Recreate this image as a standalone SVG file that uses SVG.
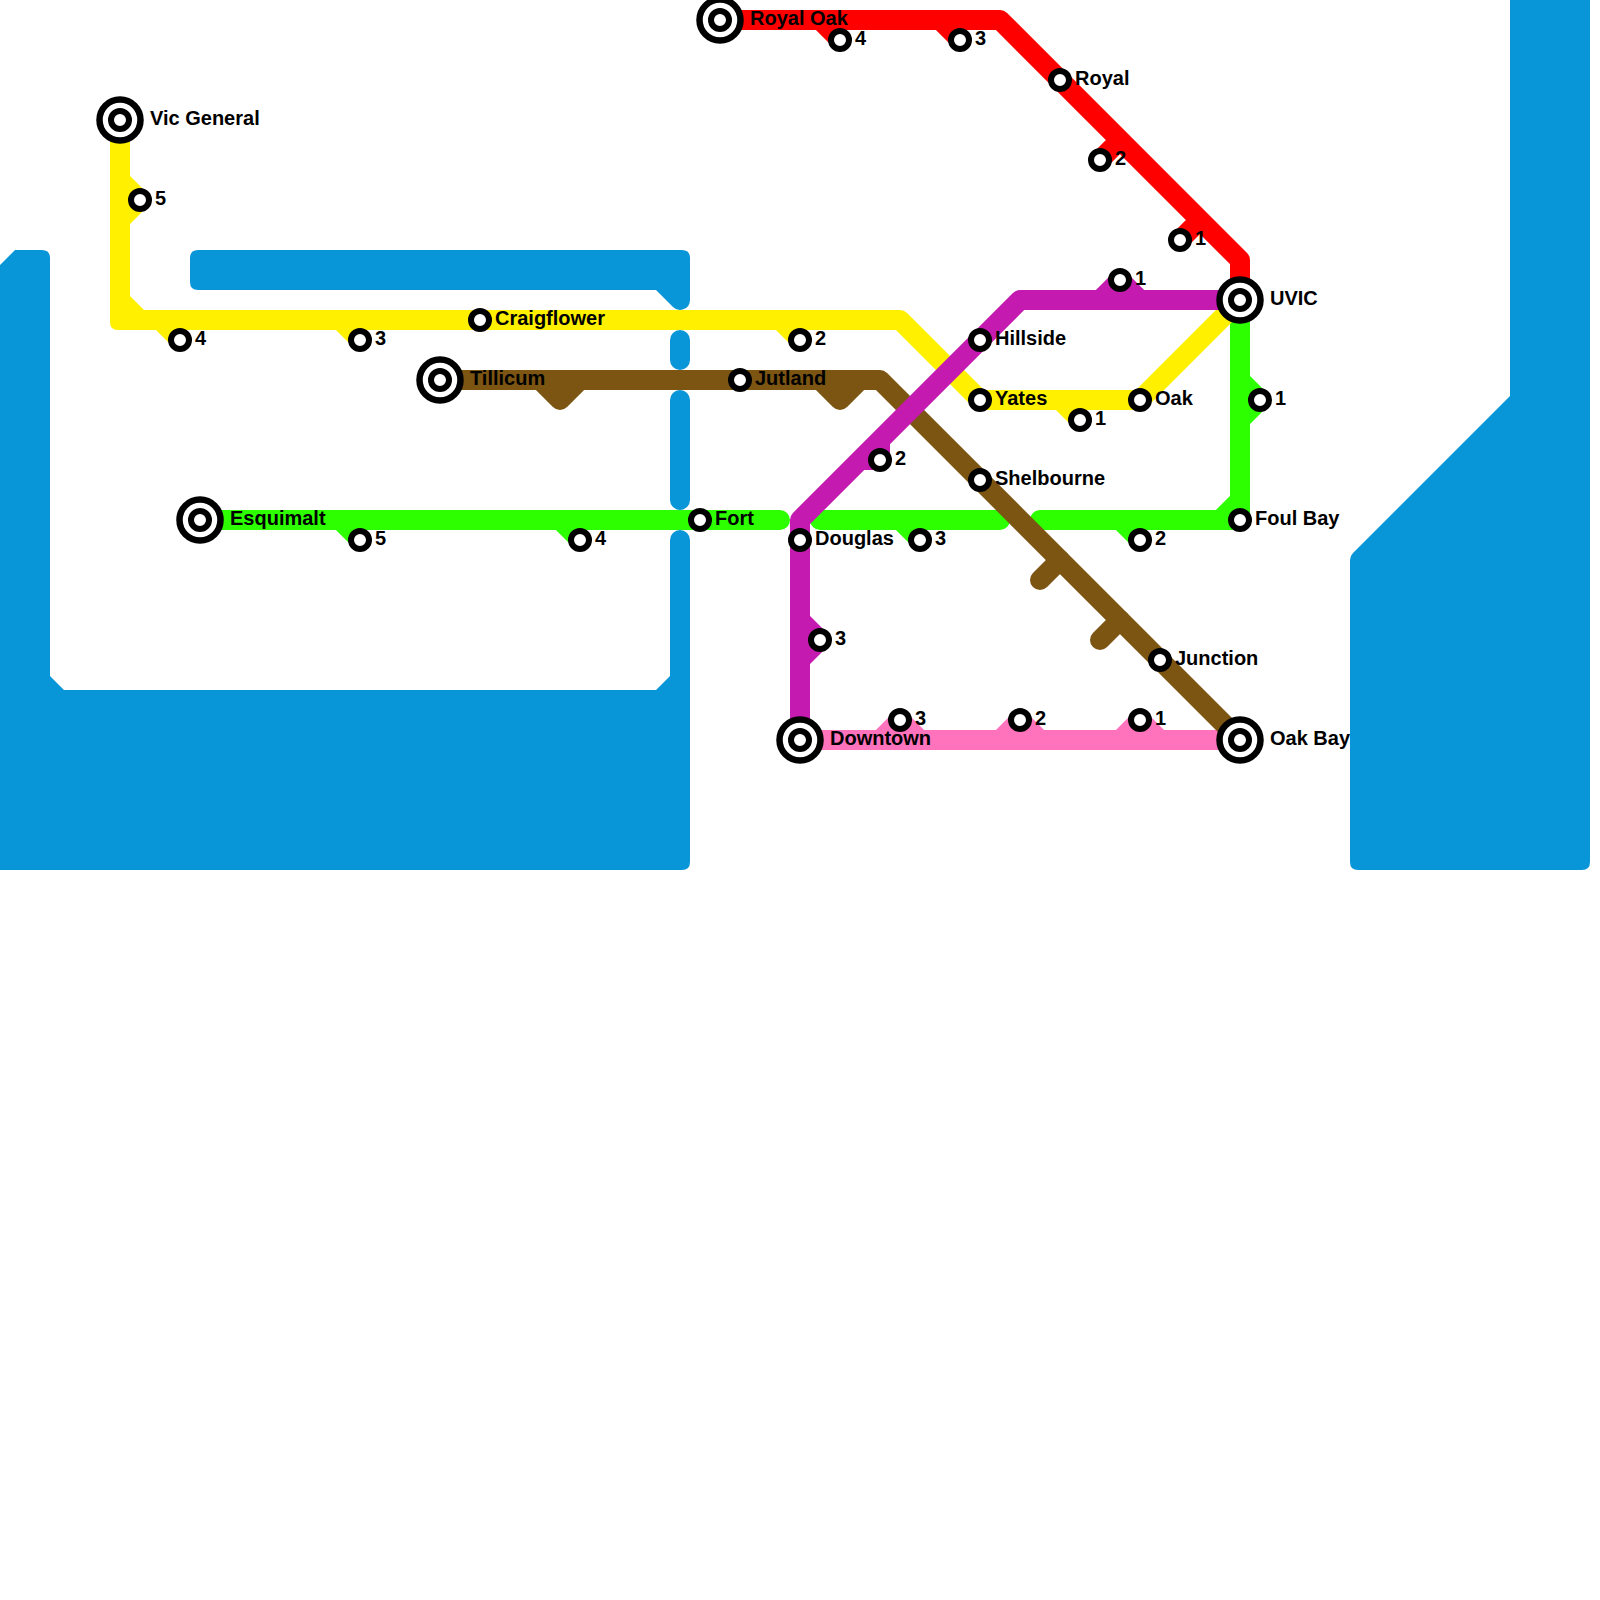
<svg xmlns="http://www.w3.org/2000/svg" width="1600" height="1600" viewBox="0 0 1600 1600">
<style>
.w{fill:#0996d8;stroke:none}
.ws{fill:none;stroke:#0996d8;stroke-width:20;stroke-linecap:round}
.l{fill:none;stroke-width:20;stroke-linejoin:round;stroke-linecap:butt}
.y{stroke:#fff000}.g{stroke:#2dff00}.r{stroke:#ff0000}.p{stroke:#c41ab0}.b{stroke:#7c5512}.k{stroke:#ff73bd}
.cap{stroke-linecap:round}
.s{fill:#fff;stroke:#000;stroke-width:6}
.t{fill:#fff;stroke:#000;stroke-width:6.5}
text{font-family:"Liberation Sans",Arial,sans-serif;font-weight:700;font-size:20px;fill:#000}
</style>
<rect width="1600" height="1600" fill="#fff"/>
<g id="water">
<path class="w" d="M0 265L15 250H42Q50 250 50 258V676L64 690H656L670 676V540A10 10 0 0 1 690 540V862Q690 870 682 870H0Z"/>
<path class="w" d="M198 250H682Q690 250 690 258V300A10 10 0 0 1 673 307L656 290H198Q190 290 190 282V258Q190 250 198 250Z"/>
<path class="ws" d="M680 340V360M680 400V500"/>
<path class="w" d="M1510 0H1590V862Q1590 870 1582 870H1358Q1350 870 1350 862V560Q1350 556 1353 553L1510 396Z"/>
</g>
<g id="connectors">
<g id="line-pink"><path class="l k" d="M800 740H1240M880 740L900 720L920 740M1000 740L1020 720L1040 740M1120 740L1140 720L1160 740"/></g>
<g id="line-green"><path class="l g" d="M1040 520H1240V300M1240 380L1260 400L1240 420M1220 520L1240 500M1120 520L1140 540"/>
<path class="l g cap" d="M200 520H780M820 520H1000M1040 520H1100"/>
<path class="l g" d="M340 520L360 540M560 520L580 540M900 520L920 540"/></g>
<g id="line-yellow"><path class="l y" d="M120 120V320H900L980 400H1140L1240 300M120 180L140 200L120 220M160 320L180 340M340 320L360 340M780 320L800 340M1060 400L1080 420"/>
<path d="M110 296V322Q110 330 118 330H144V310L130 296Z" fill="#fff000"/></g>
<g id="line-red"><path class="l r" d="M720 20H1000L1240 260V300M820 20L840 40M940 20L960 40M1120 140L1100 160M1200 220L1180 240"/></g>
<g id="line-brown"><path class="l b" d="M440 380H880L1240 740M540 380L560 400L580 380M820 380L840 400L860 380"/>
<path class="l b cap" d="M1060 560L1040 580M1120 620L1100 640"/></g>
<g id="line-purple"><path class="l p" d="M800 740V520L1020 300H1240M800 620L820 640L800 660M880 440V460H860M1100 300L1120 280L1140 300"/></g>
</g>
<g id="vic-general"><circle class="t" cx="120" cy="120" r="20.5"/><circle class="s" cx="120" cy="120" r="9"/><text x="150" y="125">Vic General</text></g>
<g id="yellow-5"><circle class="s" cx="140" cy="200" r="9"/><text x="155" y="205">5</text></g>
<g id="yellow-4"><circle class="s" cx="180" cy="340" r="9"/><text x="195" y="345">4</text></g>
<g id="yellow-3"><circle class="s" cx="360" cy="340" r="9"/><text x="375" y="345">3</text></g>
<g id="craigflower"><circle class="s" cx="480" cy="320" r="9"/><text x="495" y="325">Craigflower</text></g>
<g id="yellow-2"><circle class="s" cx="800" cy="340" r="9"/><text x="815" y="345">2</text></g>
<g id="yates"><circle class="s" cx="980" cy="400" r="9"/><text x="995" y="405">Yates</text></g>
<g id="yellow-1"><circle class="s" cx="1080" cy="420" r="9"/><text x="1095" y="425">1</text></g>
<g id="oak"><circle class="s" cx="1140" cy="400" r="9"/><text x="1155" y="405">Oak</text></g>
<g id="tillicum"><circle class="t" cx="440" cy="380" r="20.5"/><circle class="s" cx="440" cy="380" r="9"/><text x="470" y="385">Tillicum</text></g>
<g id="jutland"><circle class="s" cx="740" cy="380" r="9"/><text x="755" y="385">Jutland</text></g>
<g id="shelbourne"><circle class="s" cx="980" cy="480" r="9"/><text x="995" y="485">Shelbourne</text></g>
<g id="junction"><circle class="s" cx="1160" cy="660" r="9"/><text x="1175" y="665">Junction</text></g>
<g id="oak-bay"><circle class="t" cx="1240" cy="740" r="20.5"/><circle class="s" cx="1240" cy="740" r="9"/><text x="1270" y="745">Oak Bay</text></g>
<g id="esquimalt"><circle class="t" cx="200" cy="520" r="20.5"/><circle class="s" cx="200" cy="520" r="9"/><text x="230" y="525">Esquimalt</text></g>
<g id="green-5"><circle class="s" cx="360" cy="540" r="9"/><text x="375" y="545">5</text></g>
<g id="green-4"><circle class="s" cx="580" cy="540" r="9"/><text x="595" y="545">4</text></g>
<g id="fort"><circle class="s" cx="700" cy="520" r="9"/><text x="715" y="525">Fort</text></g>
<g id="green-3"><circle class="s" cx="920" cy="540" r="9"/><text x="935" y="545">3</text></g>
<g id="green-2"><circle class="s" cx="1140" cy="540" r="9"/><text x="1155" y="545">2</text></g>
<g id="foul-bay"><circle class="s" cx="1240" cy="520" r="9"/><text x="1255" y="525">Foul Bay</text></g>
<g id="green-1"><circle class="s" cx="1260" cy="400" r="9"/><text x="1275" y="405">1</text></g>
<g id="uvic"><circle class="t" cx="1240" cy="300" r="20.5"/><circle class="s" cx="1240" cy="300" r="9"/><text x="1270" y="305">UVIC</text></g>
<g id="royal-oak"><circle class="t" cx="720" cy="20" r="20.5"/><circle class="s" cx="720" cy="20" r="9"/><text x="750" y="25">Royal Oak</text></g>
<g id="red-4"><circle class="s" cx="840" cy="40" r="9"/><text x="855" y="45">4</text></g>
<g id="red-3"><circle class="s" cx="960" cy="40" r="9"/><text x="975" y="45">3</text></g>
<g id="royal"><circle class="s" cx="1060" cy="80" r="9"/><text x="1075" y="85">Royal</text></g>
<g id="red-2"><circle class="s" cx="1100" cy="160" r="9"/><text x="1115" y="165">2</text></g>
<g id="red-1"><circle class="s" cx="1180" cy="240" r="9"/><text x="1195" y="245">1</text></g>
<g id="purple-1"><circle class="s" cx="1120" cy="280" r="9"/><text x="1135" y="285">1</text></g>
<g id="hillside"><circle class="s" cx="980" cy="340" r="9"/><text x="995" y="345">Hillside</text></g>
<g id="purple-2"><circle class="s" cx="880" cy="460" r="9"/><text x="895" y="465">2</text></g>
<g id="douglas"><circle class="s" cx="800" cy="540" r="9"/><text x="815" y="545">Douglas</text></g>
<g id="purple-3"><circle class="s" cx="820" cy="640" r="9"/><text x="835" y="645">3</text></g>
<g id="downtown"><circle class="t" cx="800" cy="740" r="20.5"/><circle class="s" cx="800" cy="740" r="9"/><text x="830" y="745">Downtown</text></g>
<g id="pink-3"><circle class="s" cx="900" cy="720" r="9"/><text x="915" y="725">3</text></g>
<g id="pink-2"><circle class="s" cx="1020" cy="720" r="9"/><text x="1035" y="725">2</text></g>
<g id="pink-1"><circle class="s" cx="1140" cy="720" r="9"/><text x="1155" y="725">1</text></g>
</svg>
